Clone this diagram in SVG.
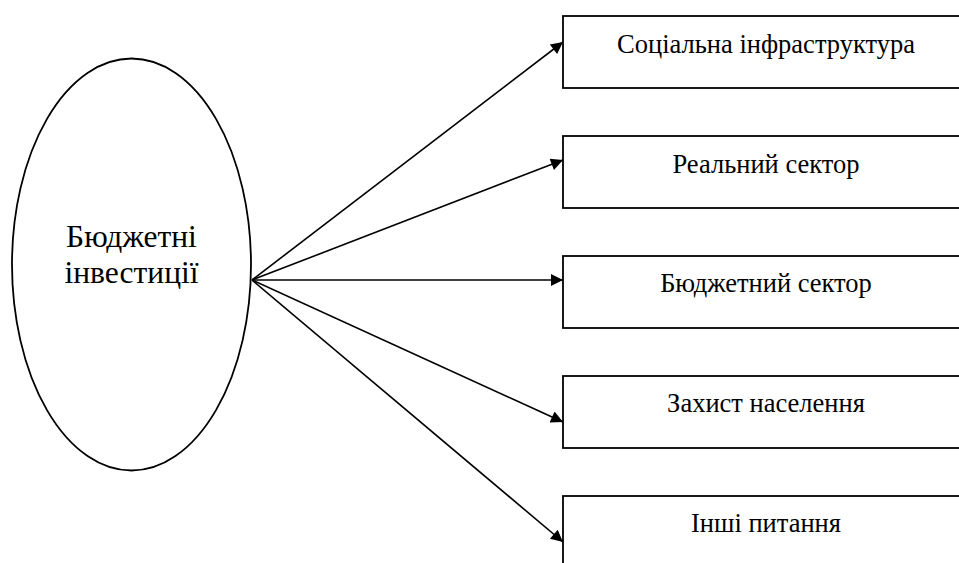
<svg xmlns="http://www.w3.org/2000/svg" width="959" height="563" viewBox="0 0 959 563">
<style>
.shape{fill:#fff;stroke:#000;stroke-width:1.8}
.lbl{font-family:"Liberation Serif","Times New Roman",serif;font-size:26.5px;fill:#000;text-anchor:middle}
.big{font-family:"Liberation Serif","Times New Roman",serif;font-size:31.5px;fill:#000;text-anchor:middle}
.conn{stroke:#000;stroke-width:1.6;fill:none;marker-end:url(#ah)}
</style>
<defs>
<marker id="ah" viewBox="0 0 10 10" refX="10" refY="5" markerWidth="16" markerHeight="12" markerUnits="userSpaceOnUse" orient="auto">
<path d="M0,0 L10,5 L0,10 z" fill="#000"/>
</marker>
</defs>
<rect width="959" height="563" fill="#fff"/>
<g id="connectors">
<line class="conn" x1="252" y1="280" x2="563" y2="42"/>
<line class="conn" x1="252" y1="280" x2="563" y2="160"/>
<line class="conn" x1="252" y1="280" x2="563" y2="280"/>
<line class="conn" x1="252" y1="280" x2="563" y2="422"/>
<line class="conn" x1="252" y1="280" x2="563" y2="542"/>
</g>
<g id="n0">
<ellipse class="shape" cx="131.5" cy="264.5" rx="119.5" ry="206"/>
<text class="big" x="131.5" y="247">Бюджетні</text>
<text class="big" x="131.5" y="283">інвестиції</text>
</g>
<g id="n1">
<rect class="shape" x="563" y="16" width="410" height="72"/>
<text class="lbl" x="766" y="53">Соціальна інфраструктура</text>
</g>
<g id="n2">
<rect class="shape" x="563" y="136" width="410" height="72"/>
<text class="lbl" x="766" y="173">Реальний сектор</text>
</g>
<g id="n3">
<rect class="shape" x="563" y="256" width="410" height="72"/>
<text class="lbl" x="766" y="292">Бюджетний сектор</text>
</g>
<g id="n4">
<rect class="shape" x="563" y="376" width="410" height="72"/>
<text class="lbl" x="766" y="412">Захист населення</text>
</g>
<g id="n5">
<rect class="shape" x="563" y="496" width="410" height="72"/>
<text class="lbl" x="766" y="532">Інші питання</text>
</g>
</svg>
